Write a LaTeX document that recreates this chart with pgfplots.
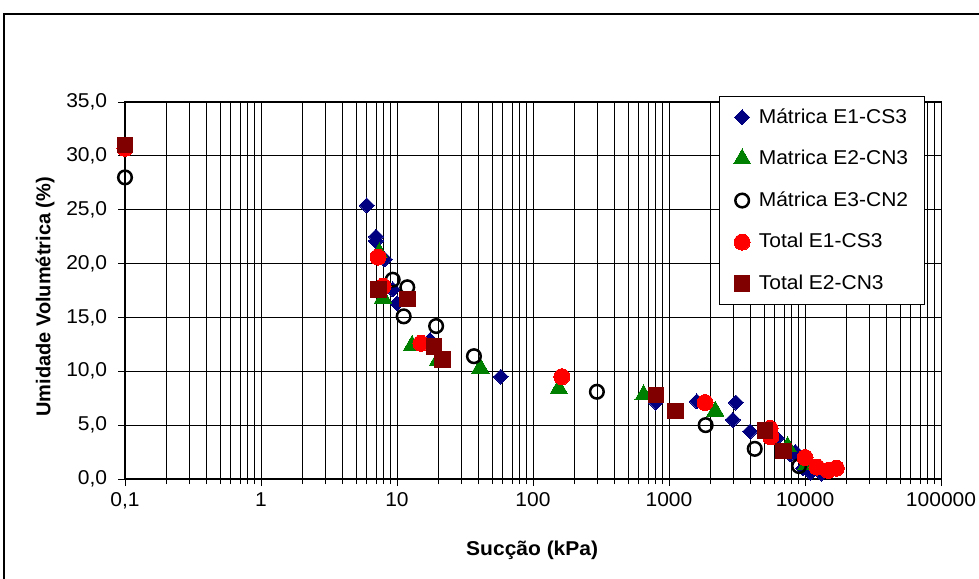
\documentclass[border=0pt]{standalone}
\usepackage{fontspec}
\setmainfont{Liberation Sans}[FakeStretch=1.05]
\newfontfamily\uprightlabel{Liberation Sans}
\usepackage{pgfplots}
\pgfplotsset{compat=1.18}

\definecolor{matE1}{RGB}{0,0,128}
\definecolor{matE2}{RGB}{0,128,0}
\definecolor{totE1}{RGB}{255,0,0}
\definecolor{totE2}{RGB}{128,0,0}

% suction (kPa) vs volumetric water content (%)
\pgfplotstableread{
x y
6.0 25.4
7.0 22.5
7.0 22.1
8.1 20.4
9.3 17.6
10.0 16.3
17.5 12.9
58 9.5
800 7.1
1600 7.2
3100 7.1
2950 5.5
3950 4.4
5350 4.7
6200 3.8
7800 2.3
8500 2.5
9700 1.0
11000 0.6
13300 0.5
}\matricaEi

\pgfplotstableread{
x y
7.4 21.0
7.9 16.8
12.9 12.4
20 11.0
41 10.3
155 8.4
650 7.8
2190 6.3
7450 3.0
10200 1.3
}\matricaEii

\pgfplotstableread{
x y
0.1 28.0
9.3 18.5
11.9 17.8
11.2 15.1
19.4 14.2
36.8 11.4
295 8.1
1860 5.0
4270 2.8
9040 1.2
}\matricaEiii

\pgfplotstableread{
x y
0.1 30.7
7.25 20.6
7.9 17.9
15 12.6
163 9.5
1840 7.1
5530 4.7
5600 3.9
10000 2.0
12250 1.1
14800 0.8
17000 1.0
}\totalEi

\pgfplotstableread{
x y
0.1 31.0
7.3 17.6
11.9 16.7
18.7 12.3
21.5 11.1
800 7.8
1120 6.3
5080 4.5
6950 2.6
}\totalEii

\begin{document}
\fontsize{20}{24}\selectfont
\begin{tikzpicture}[x=1pt,y=1pt]
\useasboundingbox (0,0) rectangle (979,578);
\draw[line width=2.5pt] (4,-10) -- (4,564) -- (990,564);
\begin{axis}[
  at={(125pt,99pt)}, anchor=south west,
  scale only axis, width=816pt, height=377pt,
  xmode=log, xmin=0.1, xmax=100000, ymin=0, ymax=35,
  xtick={0.1,1,10,100,1000,10000,100000},
  xticklabels={{0,1},1,10,100,1000,10000,100000},
  minor xtick={0.2,0.3,0.4,0.5,0.6,0.7,0.8,0.9,
    2,3,4,5,6,7,8,9,20,30,40,50,60,70,80,90,
    200,300,400,500,600,700,800,900,
    2000,3000,4000,5000,6000,7000,8000,9000,
    20000,30000,40000,50000,60000,70000,80000,90000},
  ytick={0,5,10,15,20,25,30,35},
  yticklabels={{0,0},{5,0},{10,0},{15,0},{20,0},{25,0},{30,0},{35,0}},
  xtick pos=bottom, ytick pos=left,
  tick align=outside,
  major tick length=7pt, minor tick length=5pt,
  every tick/.style={black, line width=0.8pt},
  xmajorgrids, xminorgrids, ymajorgrids,
  major grid style={black, line width=0.8pt},
  minor grid style={black, line width=0.8pt},
  axis line style={black, line width=1pt},
  tick label style={font=\fontsize{20}{24}\selectfont},
  yticklabel style={xshift=-4pt},
  xlabel={\bfseries Sucção (kPa)},
  xlabel style={at={(axis description cs:0.499,-0.188)}, anchor=center},
  ylabel={\uprightlabel\bfseries Umidade Volumétrica (\%)},
  ylabel style={at={(axis description cs:-0.098,0.483)}, anchor=center},
  label style={font=\fontsize{20}{24}\selectfont},
  legend cell align=left,
  legend style={at={(axis description cs:0.980,1.016)}, anchor=north east,
    draw=black, line width=1pt, fill=white,
    font=\fontsize{20}{24}\selectfont,
    row sep=20pt, inner xsep=14pt, inner ysep=10pt,
    /tikz/every odd column/.append style={column sep=6pt}},
  legend image post style={line width=0pt},
]
\addplot[only marks, mark=square*, mark size=5.3pt,
  mark options={rotate=45, fill=matE1, draw=matE1, line width=0pt},
  color=matE1] table {\matricaEi};
\addlegendentry{Mátrica E1-CS3}
\addplot[only marks, mark=triangle*, mark size=10pt,
  mark options={fill=matE2, draw=matE2, line width=0pt},
  color=matE2] table {\matricaEii};
\addlegendentry{Matrica E2-CN3}
\addplot[only marks, mark=o, mark size=6.8pt,
  mark options={draw=black, line width=2.5pt},
  color=black] table {\matricaEiii};
\addlegendentry{Mátrica E3-CN2}
\addplot[only marks, mark=*, mark size=8pt,
  mark options={fill=totE1, draw=totE1, line width=0pt},
  color=totE1] table {\totalEi};
\addlegendentry{Total E1-CS3}
\addplot[only marks, mark=square*, mark size=7.8pt,
  mark options={fill=totE2, draw=totE2, line width=0pt},
  color=totE2] table {\totalEii};
\addlegendentry{Total E2-CN3}
\end{axis}
\end{tikzpicture}
\end{document}
